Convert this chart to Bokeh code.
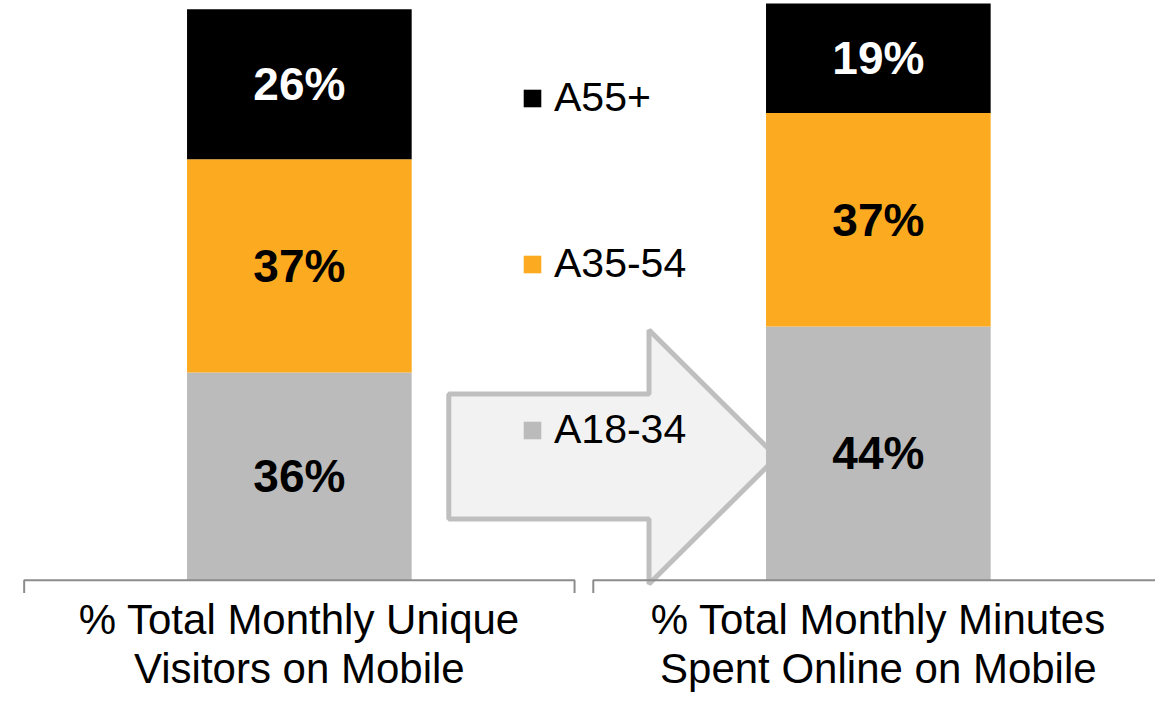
from bokeh.plotting import figure
from bokeh.models import ColumnDataSource, Range1d, Legend, LegendItem
from bokeh.core.properties import value
from bokeh.embed import file_html
from bokeh.resources import INLINE

# ---- data ----
categories = ["% Total Monthly Unique\nVisitors on Mobile",
              "% Total Monthly Minutes\nSpent Online on Mobile"]
segments = ["A18-34", "A35-54", "A55+"]
a18_34 = [36, 44]
a35_54 = [37, 37]
a55_plus = [26, 19]
seg_colors = ["#BBBBBB", "#FCAA1F", "#000000"]
label_colors = ["#000000", "#000000", "#FFFFFF"]

# ---- geometry helpers (reference pixel -> data) ----
W, H = 1155, 696
REF_W, REF_H = 1171, 712
X0_PX, DX_PX = 303.0, 587.0      # first category centre, category spacing
BASE_PX, PX_PER_PCT = 593.0, 5.9  # baseline, pixels per percent


def dx(px):
    return (px - X0_PX) / DX_PX


def dy(py):
    return (BASE_PX - py) / PX_PER_PCT


p = figure(width=W, height=H,
           x_range=Range1d(dx(0), dx(REF_W)),
           y_range=Range1d(dy(REF_H), dy(0)),
           output_backend="svg", toolbar_location=None,
           x_axis_location=None, y_axis_location=None,
           min_border=0, outline_line_color=None,
           background_fill_color="white")
p.grid.visible = False

# ---- decorative arrow (behind bars) ----
arrow_px = [(454.5, 402.5), (657.5, 402.5), (657.5, 337), (787, 467),
            (657.5, 597), (657.5, 530.5), (454.5, 530.5)]
p.patch([dx(a) for a, b in arrow_px], [dy(b) for a, b in arrow_px],
        fill_color="#F2F2F2", line_color="#BFBFBF", line_width=5)

# ---- stacked bars ----
xpos = list(range(len(categories)))
src = ColumnDataSource({"x": xpos, "A18-34": a18_34, "A35-54": a35_54, "A55+": a55_plus})
rends = p.vbar_stack(segments, x="x", width=0.388, color=seg_colors,
                     line_color=None, source=src)

# ---- segment labels ----
lx, ly, lt, lc = [], [], [], []
series = [a18_34, a35_54, a55_plus]
for i in xpos:
    base = 0
    for s, vals in enumerate(series):
        v = vals[i]
        lx.append(i)
        ly.append(base + v / 2)
        lt.append(f"{v}%")
        lc.append(label_colors[s])
        base += v
p.text(x=lx, y=ly, text=lt, text_color=lc, text_align="center",
       text_baseline="middle", text_font=value("Liberation Sans"),
       text_font_style="bold", text_font_size="46px")

# ---- bracket-style category axis ----
tick_bot = 606
p.multi_line(xs=[[dx(24), dx(24), dx(582), dx(582)], [dx(601), dx(601), dx(1180)]],
             ys=[[dy(tick_bot), dy(593), dy(593), dy(tick_bot)], [dy(tick_bot), dy(593), dy(593)]],
             line_color="#8C8C8C", line_width=2)

p.text(x=xpos, y=[dy(609)] * len(xpos), text=categories, text_align="center",
       text_baseline="top", text_font=value("Liberation Sans"),
       text_font_size="42px", text_color="#000000", text_line_height=1.04)

# ---- legend ----
item_h = 48
centers = [97 * H / REF_H, 269 * H / REF_H, 439 * H / REF_H]
spacing = int(round((centers[2] - centers[0]) / 2 - item_h))
legend_bottom = centers[2] + item_h / 2
items = [LegendItem(label=segments[k], renderers=[rends[k]]) for k in (2, 1, 0)]
legend = Legend(items=items, location=(int(round(528 * W / REF_W)), int(round(H - legend_bottom))),
                orientation="vertical",
                spacing=spacing, padding=0, margin=0, glyph_width=22, glyph_height=22,
                label_standoff=11, label_text_font_size="41px",
                label_text_font="Liberation Sans", label_text_color="#000000",
                border_line_color=None, background_fill_alpha=0)
p.add_layout(legend)

open("out.html", "w").write(file_html(p, INLINE))
